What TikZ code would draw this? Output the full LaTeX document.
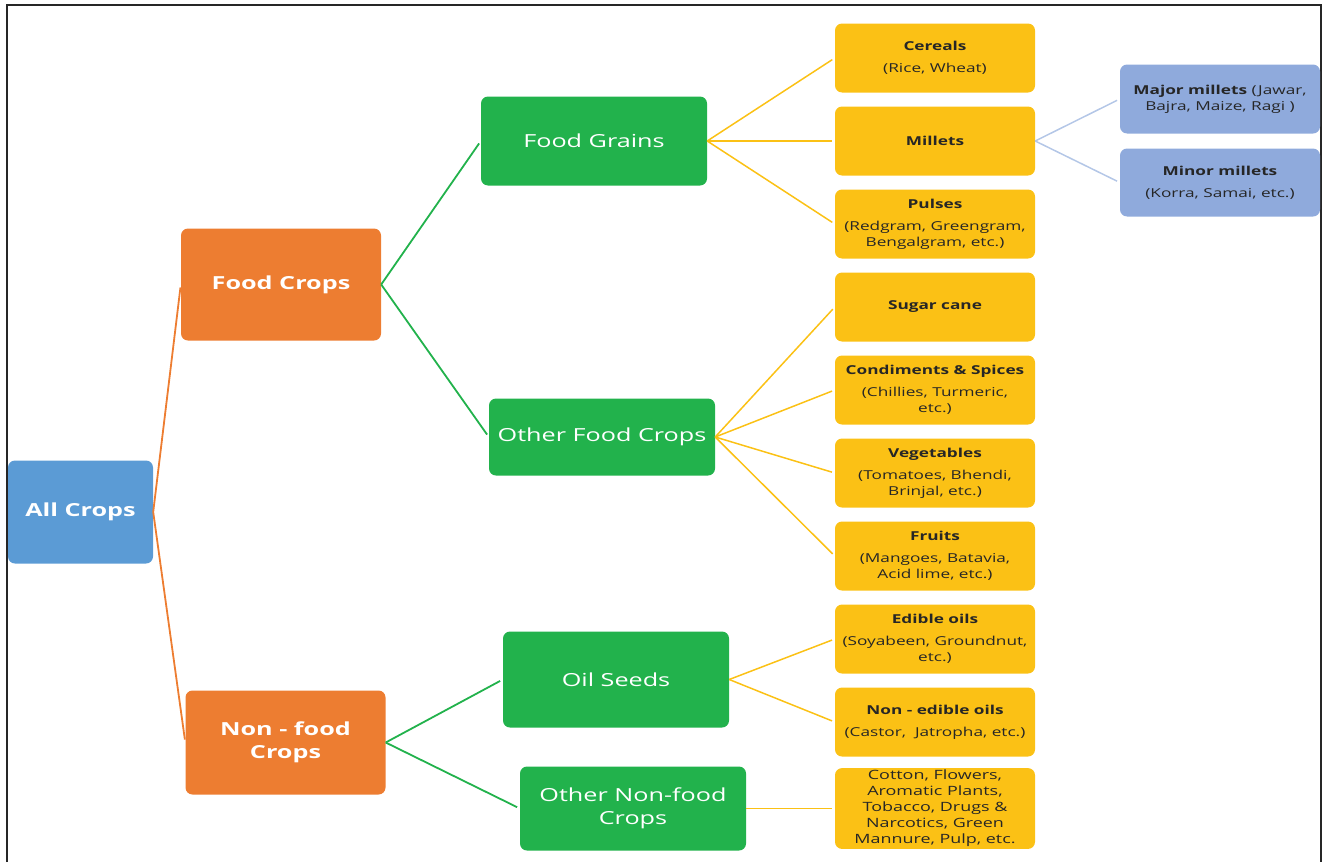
\documentclass[tikz,border=0pt]{standalone}
\usepackage{fontspec}
\setmainfont{Open Sans}[FakeStretch=1.4]

\definecolor{rootblue}{HTML}{5B9BD5}
\definecolor{cropsorange}{HTML}{ED7D31}
\definecolor{groupgreen}{HTML}{22B24C}
\definecolor{leafyellow}{HTML}{FBC115}
\definecolor{subgrey}{HTML}{8FAADC}
\definecolor{linkgrey}{HTML}{B4C7E7}
\definecolor{inktext}{HTML}{262626}

\tikzset{
  box/.style={rounded corners=7pt, inner sep=2pt, align=center},
  rootbox/.style={box, fill=rootblue, text=white, minimum width=145pt, minimum height=103pt,
    font=\fontsize{18}{23}\selectfont\bfseries},
  cropbox/.style={box, fill=cropsorange, text=white, minimum width=200pt,
    font=\fontsize{18}{23}\selectfont\bfseries},
  groupbox/.style={box, fill=groupgreen, text=white, minimum width=226pt,
    font=\fontsize{18}{23}\selectfont},
  leafbox/.style={box, fill=leafyellow, text=inktext, minimum width=200pt, minimum height=69pt,
    font=\fontsize{12.3}{16}\selectfont},
  subbox/.style={box, fill=subgrey, text=inktext, minimum width=200pt, minimum height=68pt,
    font=\fontsize{12.3}{16}\selectfont},
  link/.style={line width=1.8pt, shorten >=3pt},
  leaflink/.style={link, line width=1.5pt},
}

\begin{document}
\begin{tikzpicture}[x=1pt,y=-1pt]
\useasboundingbox (0,0) rectangle (1325,862);

% frame
\draw[line width=2.5pt, black!85] (7,862) -- (7,5) -- (1321,5) -- (1321,862);

% root and crop types
\node[rootbox] (all) at (80.5,512) {All Crops};
\node[cropbox, minimum height=112pt] (food) at (281,284.5) {Food Crops};
\node[cropbox, minimum height=104pt] (nonfood) at (285.5,742.5) {Non - food\\Crops};

% groups
\node[groupbox, minimum height=89pt] (grains) at (594,141) {Food Grains};
\node[groupbox, minimum height=77pt] (otherfood) at (602,437) {Other Food Crops};
\node[groupbox, minimum height=96pt] (oil) at (616,679.5) {Oil Seeds};
\node[groupbox, minimum height=84pt] (othernon) at (633,808.5) {Other Non-food\\Crops};

% leaves
\node[leafbox] (cereals) at (935,58) {\textbf{Cereals}\\[6pt](Rice, Wheat)};
\node[leafbox] (millets) at (935,141) {\textbf{Millets}};
\node[leafbox] (pulses) at (935,224) {\textbf{Pulses}\\[6pt](Redgram, Greengram,\\Bengalgram, etc.)};
\node[leafbox] (sugar) at (935,307) {\textbf{Sugar cane}};
\node[leafbox] (spices) at (935,390) {\textbf{Condiments \& Spices}\\[6pt](Chillies, Turmeric,\\etc.)};
\node[leafbox] (veg) at (935,473) {\textbf{Vegetables}\\[6pt](Tomatoes, Bhendi,\\Brinjal, etc.)};
\node[leafbox] (fruits) at (935,556) {\textbf{Fruits}\\[6pt](Mangoes, Batavia,\\Acid lime, etc.)};
\node[leafbox] (edible) at (935,639) {\textbf{Edible oils}\\[6pt](Soyabeen, Groundnut,\\etc.)};
\node[leafbox] (nonedible) at (935,722) {\textbf{Non - edible oils}\\[6pt](Castor,\ \ Jatropha, etc.)};
\node[leafbox, minimum height=78pt, font=\fontsize{12.8}{16}\selectfont] (cotton) at (935,808.5) {Cotton, Flowers,\\Aromatic Plants,\\Tobacco, Drugs \&\\Narcotics, Green\\Mannure, Pulp, etc.};

% millet kinds
\node[subbox, minimum height=69pt] (major) at (1220,99) {\textbf{Major millets} (Jawar,\\Bajra, Maize, Ragi )};
\node[subbox] (minor) at (1220,182.5) {\textbf{Minor millets}\\[6pt](Korra, Samai, etc.)};

% connectors
\draw[link, cropsorange] (all.east) -- (food.west);
\draw[link, cropsorange] (all.east) -- (nonfood.west);

\draw[link, groupgreen] (food.east) -- (grains.west);
\draw[link, groupgreen] (food.east) -- (otherfood.west);
\draw[link, groupgreen] (nonfood.east) -- (oil.west);
\draw[link, groupgreen] (nonfood.east) -- (othernon.west);

\foreach \leaf in {cereals,millets,pulses}
  \draw[leaflink, leafyellow] (grains.east) -- (\leaf.west);
\foreach \leaf in {sugar,spices,veg,fruits}
  \draw[leaflink, leafyellow] (otherfood.east) -- (\leaf.west);
\foreach \leaf in {edible,nonedible}
  \draw[leaflink, leafyellow] (oil.east) -- (\leaf.west);
\draw[leaflink, leafyellow] (othernon.east) -- (cotton.west);

\draw[leaflink, linkgrey] (millets.east) -- (major.west);
\draw[leaflink, linkgrey] (millets.east) -- (minor.west);

\end{tikzpicture}
\end{document}
